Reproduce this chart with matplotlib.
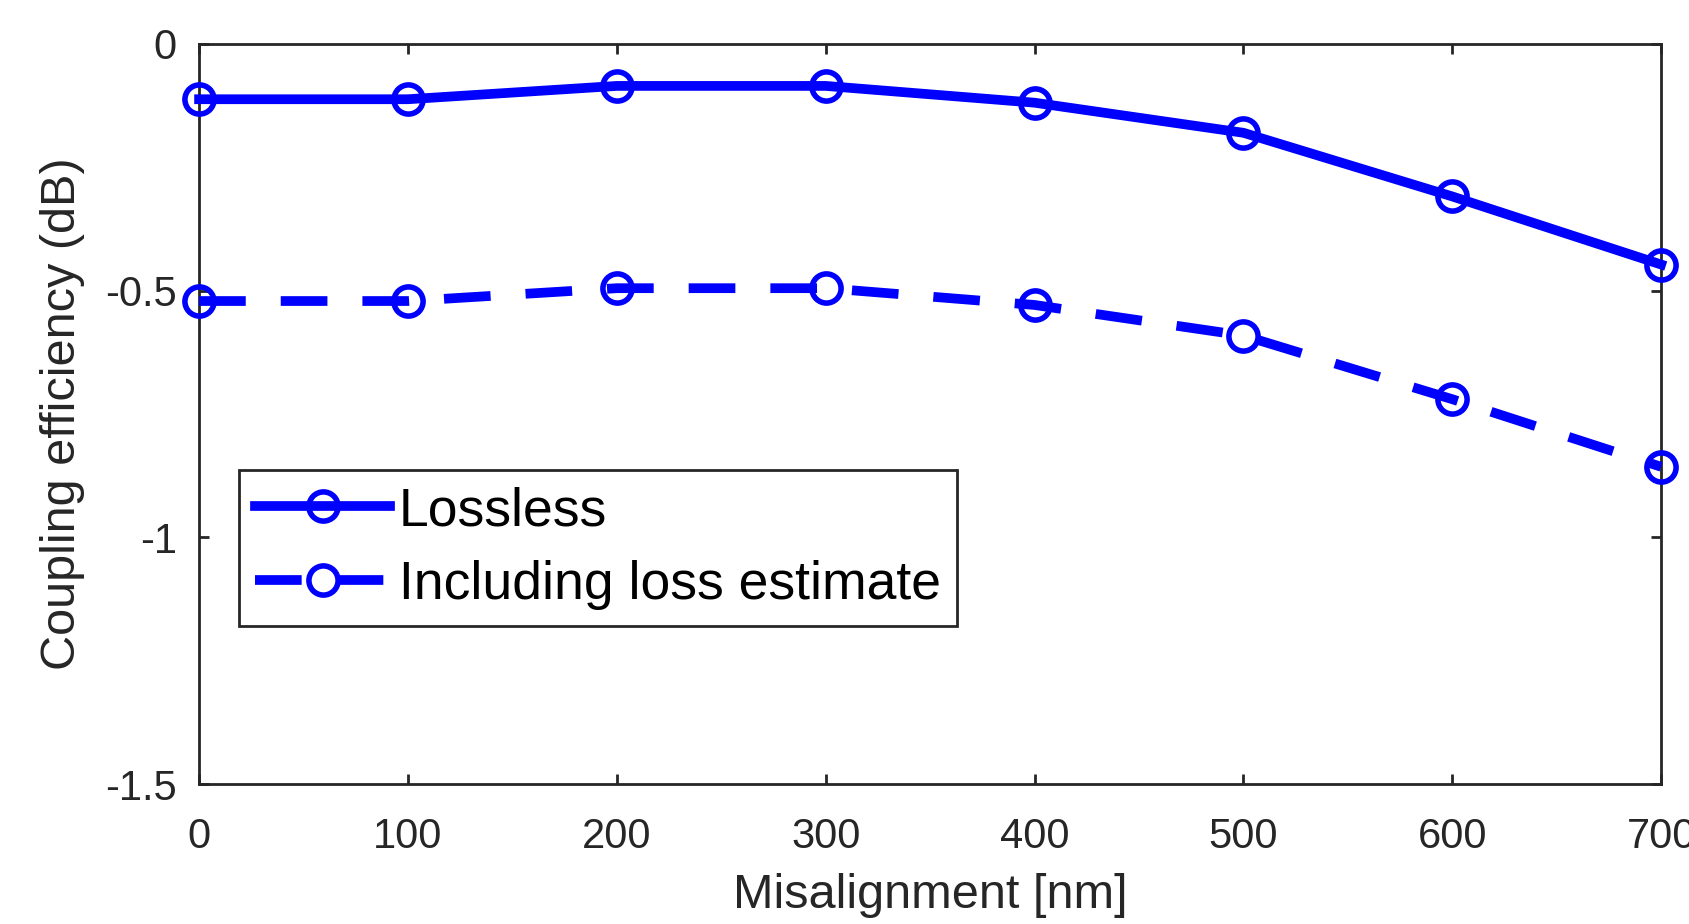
import matplotlib
matplotlib.use("Agg")
import matplotlib.pyplot as plt

plt.rcParams['font.family'] = ['Liberation Sans', 'DejaVu Sans']
plt.rcParams['axes.unicode_minus'] = False

# data
misalignment = [0, 100, 200, 300, 400, 500, 600, 700]
lossless = [-0.112, -0.112, -0.085, -0.085, -0.119, -0.180, -0.309, -0.447]
with_loss = [-0.521, -0.521, -0.495, -0.495, -0.529, -0.591, -0.720, -0.857]

xticks = [0, 100, 200, 300, 400, 500, 600, 700]
yticks = [0, -0.5, -1, -1.5]
ytick_labels = ['0', '-0.5', '-1', '-1.5']

dark = '#262626'
blue = '#0000ff'

fig = plt.figure(figsize=(16.9, 9.24), dpi=100)
ax = fig.add_axes([0.1178, 0.1515, 0.8651, 0.8009])

ax.plot(misalignment, lossless, '-', color=blue, lw=7, marker='o', ms=21,
        mfc='none', mew=4, label='Lossless', clip_on=False, zorder=3)
ax.plot(misalignment, with_loss, color=blue, lw=7, ls=(0, (4.8, 3.6)), marker='o',
        ms=21, mfc='none', mew=4, label='Including loss estimate',
        clip_on=False, zorder=3)

ax.set_xlim(0, 700)
ax.set_ylim(-1.5, 0)
ax.set_xticks(xticks)
ax.set_yticks(yticks)
ax.set_yticklabels(ytick_labels)

ax.tick_params(direction='in', top=True, right=True, length=7, width=2,
               color=dark, labelcolor=dark, labelsize=30)
ax.tick_params(axis='x', pad=24)
ax.tick_params(axis='y', pad=16)
for s in ax.spines.values():
    s.set_color(dark)
    s.set_linewidth(2)

ax.set_xlabel('Misalignment [nm]', fontsize=35, color=dark)
ax.set_ylabel('Coupling efficiency (dB)', fontsize=35, color=dark)
ax.xaxis.set_label_coords(0.5, -0.12)
ax.yaxis.set_label_coords(-0.078, 0.5)

leg = ax.legend(loc='upper left', bbox_to_anchor=(0.0274, 0.4243), borderaxespad=0,
                fontsize=38.5, fancybox=False, framealpha=1, edgecolor=dark,
                borderpad=0.3, labelspacing=0.45, handlelength=2.52,
                handletextpad=0.17, numpoints=1)
leg.get_frame().set_linewidth(2)
for t in leg.get_texts():
    t.set_color('black')

fig.savefig('out.png', dpi=100)
